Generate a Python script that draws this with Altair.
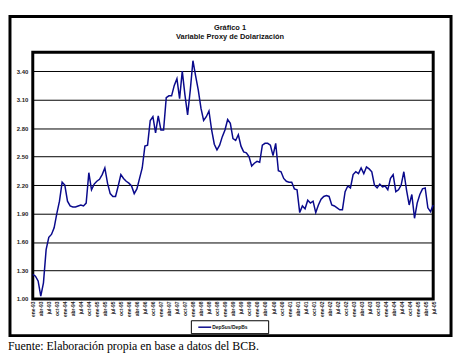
import altair as alt
import pandas as pd

# ---- data ----
month_names = ["ene", "feb", "mar", "abr", "may", "jun", "jul", "ago", "sep", "oct", "nov", "dic"]
start_year = 1993
n_months = 151
periods = [f"{month_names[i % 12]}-{str(start_year + i // 12)[2:]}" for i in range(n_months)]

ratio = [1.26, 1.24, 1.19, 1.03, 1.17, 1.52, 1.65, 1.68, 1.75, 1.90,
         2.03, 2.23, 2.20, 2.03, 1.98, 1.97, 1.97, 1.98, 1.99, 1.98,
         2.01, 2.33, 2.15, 2.21, 2.24, 2.26, 2.31, 2.38, 2.22, 2.11,
         2.08, 2.08, 2.19, 2.31, 2.27, 2.24, 2.22, 2.19, 2.11, 2.16,
         2.27, 2.38, 2.61, 2.62, 2.88, 2.92, 2.75, 2.93, 2.78, 2.78,
         3.12, 3.14, 3.14, 3.25, 3.32, 3.11, 3.40, 3.15, 2.94, 3.20,
         3.51, 3.35, 3.20, 3.01, 2.88, 2.92, 2.98, 2.78, 2.63, 2.57,
         2.62, 2.71, 2.78, 2.89, 2.85, 2.69, 2.67, 2.73, 2.61, 2.55,
         2.54, 2.50, 2.40, 2.43, 2.45, 2.44, 2.62, 2.64, 2.64, 2.62,
         2.51, 2.64, 2.35, 2.34, 2.27, 2.24, 2.23, 2.23, 2.16, 2.15,
         1.91, 1.98, 1.95, 2.04, 2.01, 2.03, 1.91, 1.99, 2.05, 2.08,
         2.09, 2.08, 1.99, 1.98, 1.96, 1.94, 1.94, 2.13, 2.19, 2.17,
         2.31, 2.34, 2.32, 2.38, 2.32, 2.39, 2.37, 2.34, 2.20, 2.17,
         2.21, 2.18, 2.19, 2.15, 2.27, 2.31, 2.13, 2.15, 2.20, 2.34,
         2.15, 1.99, 2.10, 1.85, 2.01, 2.10, 2.16, 2.17, 1.96, 1.92,
         1.99]

y_ticks = [1.00, 1.30, 1.60, 1.90, 2.20, 2.50, 2.80, 3.10, 3.40]
x_ticks = periods[::3]

title_lines = ["Gráfico 1", "Variable Proxy de Dolarización"]
series_name = "DepSus/DepBs"
source_note = "Fuente: Elaboración propia en base a datos del BCB."

df = pd.DataFrame({"periodo": periods, "valor": ratio})
one = pd.DataFrame({"k": [0]})

W, H = 404, 249
SANS = "Liberation Sans"

line = alt.Chart(df).mark_line(color="#0a0a8c", strokeWidth=1.5).encode(
    x=alt.X("periodo:O", sort=None,
            scale=alt.Scale(type="point", padding=0),
            axis=alt.Axis(values=x_ticks, title=None, labelAngle=-90, labelFontSize=5,
                          labelFont=SANS, labelFontWeight="bold", labelColor="#222",
                          ticks=False, domain=False, labelPadding=2,
                          labelAlign="right", labelBaseline="middle")),
    y=alt.Y("valor:Q", scale=alt.Scale(domain=[1.0, 3.6], nice=False),
            axis=alt.Axis(values=y_ticks, format=".2f", title=None, labelFontSize=6,
                          labelFont=SANS, labelFontWeight="bold", labelColor="#222",
                          ticks=False, domain=False, labelPadding=5,
                          grid=True, gridColor="#000", gridWidth=1, gridOpacity=1)),
)

outer = alt.Chart(one).mark_rect(fill=None, stroke="black", strokeWidth=3, clip=False).encode(
    x=alt.value(-23), x2=alt.value(422), y=alt.value(-36), y2=alt.value(286))

t1 = alt.Chart(one).mark_text(font=SANS, fontSize=7.5, fontWeight="bold", color="#111").encode(
    x=alt.value(199), y=alt.value(-24), text=alt.value(title_lines[0]))
t2 = alt.Chart(one).mark_text(font=SANS, fontSize=7.5, fontWeight="bold", color="#111").encode(
    x=alt.value(199), y=alt.value(-15), text=alt.value(title_lines[1]))

leg_box = alt.Chart(one).mark_rect(fill="white", stroke="black", strokeWidth=1, clip=False).encode(
    x=alt.value(160), x2=alt.value(238), y=alt.value(271), y2=alt.value(284))
leg_line = alt.Chart(one).mark_rule(color="#0a0a8c", strokeWidth=1.5).encode(
    x=alt.value(167), x2=alt.value(180), y=alt.value(277.5))
leg_text = alt.Chart(one).mark_text(font=SANS, fontSize=5, fontWeight="bold", align="left",
                                     baseline="middle", color="#111").encode(
    x=alt.value(181), y=alt.value(277.5), text=alt.value(series_name))

note = alt.Chart(one).mark_text(font="Liberation Serif", fontSize=12, align="left",
                                 baseline="alphabetic", color="black").encode(
    x=alt.value(-25), y=alt.value(300), text=alt.value(source_note))

chart = alt.layer(outer, line, t1, t2, leg_box, leg_line, leg_text, note).properties(
    width=W, height=H,
    autosize=alt.AutoSizeParams(type="none"),
    padding={"left": 25, "top": 43, "right": 22, "bottom": 57},
    background="white",
).configure_view(stroke="black", strokeWidth=3)

chart.save("out.html", embed_options={"renderer": "svg", "actions": False})
